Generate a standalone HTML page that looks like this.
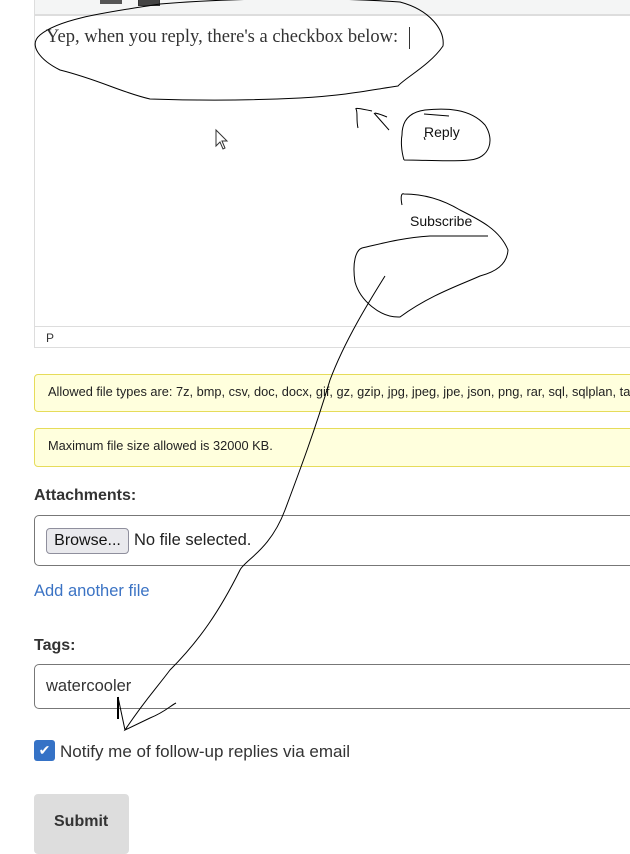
<!DOCTYPE html>
<html><head><meta charset="utf-8"><style>
body{margin:0;width:630px;height:841px;overflow:hidden;background:#fff;font-family:"Liberation Sans",sans-serif;position:relative;color:#333}
.a{position:absolute}
</style></head><body>
<div class="a" style="left:34px;top:0;width:600px;height:14px;background:#f4f5f5;border-bottom:2px solid #ddd"></div>
<div class="a" style="left:100px;top:0;width:22px;height:4px;background:#555"></div>
<div class="a" style="left:138px;top:0;width:20px;height:5px;border:1px solid #333;border-top:none;background:#444"></div>
<div class="a" style="left:34px;top:0;width:1px;height:347px;background:#ddd"></div>
<div class="a" style="left:34px;top:326px;width:600px;height:1px;background:#ddd"></div>
<div class="a" style="left:34px;top:347px;width:600px;height:1px;background:#ddd"></div>
<div class="a" style="left:46px;top:331px;font-size:12px;color:#333">P</div>
<div class="a" style="left:46px;top:27px;font-family:'Liberation Serif',serif;font-size:18.5px;color:#333;white-space:nowrap">Yep, when you reply, there's a checkbox below:</div>
<div class="a" style="left:409px;top:27px;width:1px;height:22px;background:#333"></div>
<div class="a" style="left:34px;top:374px;width:610px;height:36px;background:#ffffdd;border:1px solid #e6dc5a;border-radius:4px"></div>
<div class="a" style="left:48px;top:384px;font-size:12.8px;color:#222;white-space:nowrap">Allowed file types are: 7z, bmp, csv, doc, docx, gif, gz, gzip, jpg, jpeg, jpe, json, png, rar, sql, sqlplan, tar,</div>
<div class="a" style="left:34px;top:428px;width:610px;height:37px;background:#ffffdd;border:1px solid #e6dc5a;border-radius:4px"></div>
<div class="a" style="left:48px;top:438px;font-size:12.8px;color:#222">Maximum file size allowed is 32000 KB.</div>
<div class="a" style="left:34px;top:487px;font-size:16px;font-weight:bold;color:#333">Attachments:</div>
<div class="a" style="left:34px;top:515px;width:610px;height:49px;border:1px solid #777;border-radius:5px"></div>
<div class="a" style="left:46px;top:528px;width:81px;height:24px;background:#e9e9ed;border:1px solid #8f8f9d;border-radius:4px;font-size:16px;line-height:24px;text-align:center;color:#111">Browse...</div>
<div class="a" style="left:134px;top:531px;font-size:16.5px;color:#222">No file selected.</div>
<div class="a" style="left:34px;top:582px;font-size:16.5px;color:#3b73c4">Add another file</div>
<div class="a" style="left:34px;top:637px;font-size:16px;font-weight:bold;color:#333">Tags:</div>
<div class="a" style="left:34px;top:664px;width:610px;height:43px;border:1px solid #777;border-radius:5px"></div>
<div class="a" style="left:46px;top:677px;font-size:16.5px;color:#333">watercooler</div>
<div class="a" style="left:34px;top:740px;width:21px;height:21px;background:#3572c6;border-radius:3px;color:#fff;font-size:14px;line-height:21px;text-align:center">✔</div>
<div class="a" style="left:60px;top:742px;font-size:17px;color:#333">Notify me of follow-up replies via email</div>
<div class="a" style="left:34px;top:794px;width:95px;height:60px;background:#ddd;border-radius:4px"></div>
<div class="a" style="left:54px;top:813px;font-size:16px;font-weight:bold;color:#333">Submit</div>
<div class="a" style="left:424px;top:124px;font-size:14px;color:#111">Reply</div>
<div class="a" style="left:410px;top:213px;font-size:14px;color:#111">Subscribe</div>
<svg class="a" style="left:0;top:0" width="630" height="841" fill="none" stroke="#000" stroke-width="1">
<path d="M160,4 C230,-2 330,-3 400,2 C430,10 445,30 443,46 C430,65 405,78 398,86 C370,90 350,95 300,98 C240,101 180,100 150,99 C120,92 100,80 60,70 C40,60 28,45 40,35 C60,18 110,12 160,4"/>
<path d="M358,128 C356,120 358,112 356,109 C355,108 358,108 372,111 M374,113 L389,130 M375,113 C380,114 387,117 387,117"/>
<path d="M404,160 C401,150 401,140 402,135 C402,120 410,112 425,110 C445,108 470,108 485,125 C495,140 490,158 470,160 C450,162 425,160 404,160"/>
<path d="M424,137 C425,139 425,140 425,140 M424,114 L449,116"/>
<path d="M402,205 C400,195 402,193 404,194 C420,194 440,198 460,210 C480,220 500,230 508,250 C507,265 495,272 480,276 C460,285 430,295 400,317 C380,318 360,300 355,282 C352,262 356,250 362,248 C380,244 400,238 430,236 L488,236"/>
<path d="M385,276 C370,300 345,340 330,380 C315,430 300,470 285,510 C270,550 245,560 240,570 C220,610 200,640 170,670 C155,690 145,700 125,730 L150,718 C165,712 170,706 176,703 M125,730 L118,697"/>
<path d="M118,697 L118,719" stroke-width="2"/>
<path d="M216,130 L216,146 L220,142 L223,149 L225,148 L222,141 L227,141 Z" stroke="#333"/>
</svg>
</body></html>
